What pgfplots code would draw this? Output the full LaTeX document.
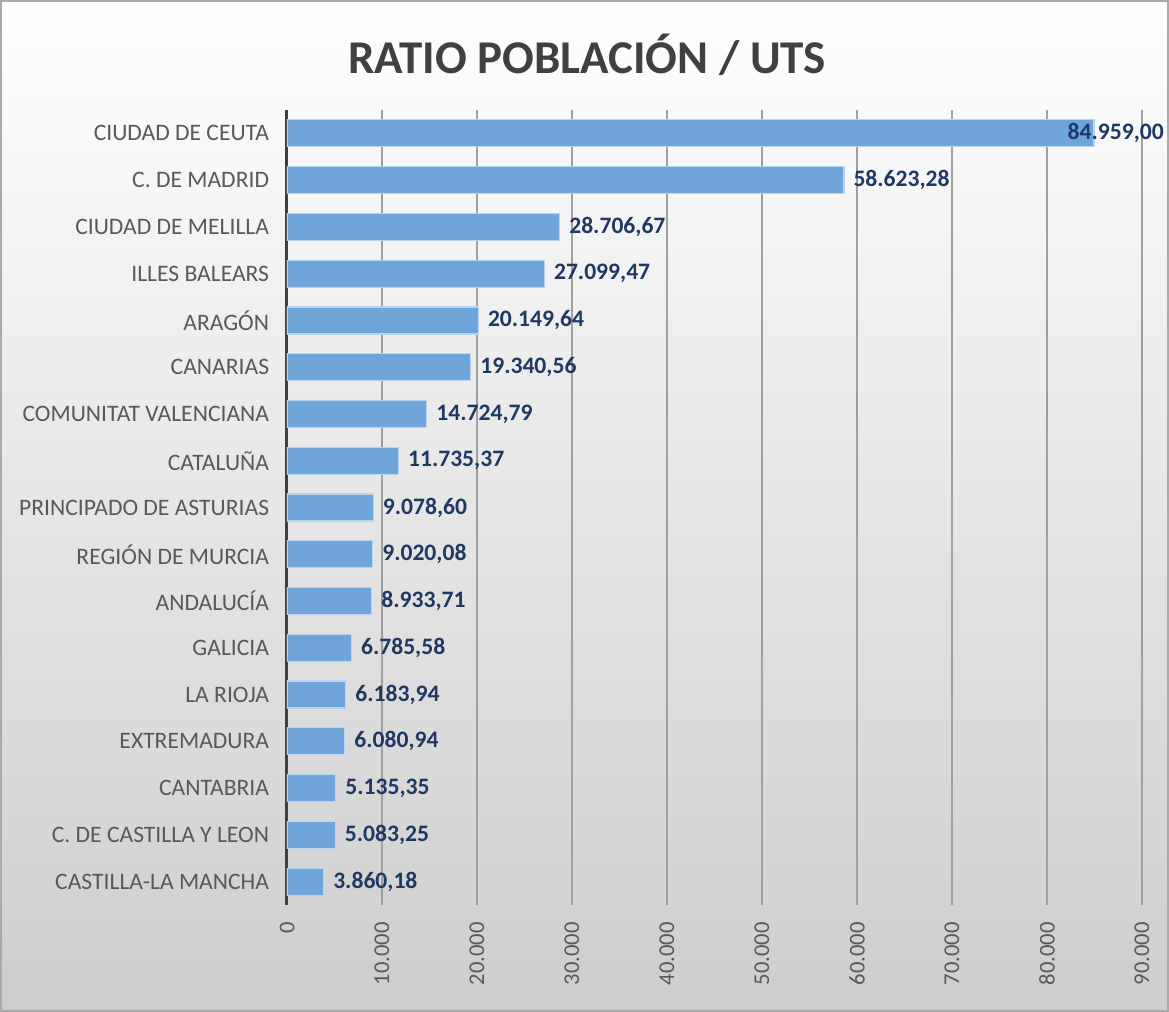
\documentclass[border=0pt]{standalone}
\usepackage{pgfplots}
\pgfplotsset{compat=1.18}
\usepackage{pgfplotstable}
\usepackage{fontspec}
\setmainfont{Carlito}
\definecolor{barblue}{RGB}{112,165,218}
\definecolor{baredge}{RGB}{185,212,240}
\definecolor{labnavy}{RGB}{31,56,100}
\definecolor{catgray}{RGB}{89,89,89}
\definecolor{titlegray}{RGB}{64,64,64}
\definecolor{gridgray}{RGB}{160,160,160}
\definecolor{axisdark}{RGB}{64,64,64}
\pgfplotstableread{
y x label
15 58623.28 58.623,28
14 28706.67 28.706,67
13 27099.47 27.099,47
12 20149.64 20.149,64
11 19340.56 19.340,56
10 14724.79 14.724,79
9 11735.37 11.735,37
8 9078.60 9.078,60
7 9020.08 9.020,08
6 8933.71 8.933,71
5 6785.58 6.785,58
4 6183.94 6.183,94
3 6080.94 6.080,94
2 5135.35 5.135,35
1 5083.25 5.083,25
0 3860.18 3.860,18
}\datamain
\pgfplotstableread{
y x label
16 84959.00 84.959,00
}\dataceuta
\begin{document}
\begin{tikzpicture}
\useasboundingbox (0,0) rectangle (584.5pt,506pt);
\shade[top color=white, bottom color={rgb,255:red,205;green,205;blue,205}] (0,0) rectangle (584.5pt,506pt);
\draw[draw={rgb,255:red,170;green,170;blue,170}, line width=1.2pt] (0.6pt,0.6pt) rectangle (583.9pt,505.4pt);
\node[font=\bfseries\fontsize{23.5}{28}\selectfont, text=titlegray] at (293.5pt,478.5pt) {RATIO POBLACIÓN / UTS};
\begin{axis}[
  at={(143.5pt,53.5pt)}, anchor=south west,
  width=427.5pt, height=397.5pt, scale only axis,
  xmin=0, xmax=90000, ymin=-0.5, ymax=16.5,
  xbar, bar width=13.5pt, bar shift=0pt,
  scaled x ticks=false,
  axis line style={draw=none},
  tick style={draw=none},
  xtick={10000,20000,30000,40000,50000,60000,70000,80000,90000},
  xticklabels={10.000,20.000,30.000,40.000,50.000,60.000,70.000,80.000,90.000},
  extra x ticks={0}, extra x tick labels={0},
  extra x tick style={major grid style={draw=axisdark, line width=1.5pt}},
  xmajorgrids,
  major grid style={draw=gridgray, line width=0.8pt},
  x tick label style={rotate=90, anchor=east, inner sep=0pt, font=\fontsize{11.3}{13}\selectfont, text=catgray},
  xticklabel shift=8.5pt,
  ytick={0,...,16},
  yticklabels={CASTILLA-LA MANCHA, C. DE CASTILLA Y LEON, CANTABRIA, EXTREMADURA, LA RIOJA, GALICIA, ANDALUCÍA, REGIÓN DE MURCIA, PRINCIPADO DE ASTURIAS, CATALUÑA, COMUNITAT VALENCIANA, CANARIAS, ARAGÓN, ILLES BALEARS, CIUDAD DE MELILLA, C. DE MADRID, CIUDAD DE CEUTA},
  y tick label style={anchor=east, inner sep=0pt, font=\fontsize{11.8}{13}\selectfont, text=catgray},
  yticklabel shift=4.5pt,
  point meta=explicit symbolic,
  nodes near coords,
  every node near coord/.style={font=\bfseries\fontsize{11.8}{13}\selectfont, text=labnavy, anchor=west, inner sep=0pt},
]
\addplot[fill=barblue, draw=baredge, line width=0.6pt, nodes near coords style={xshift=4.5pt}] table[x=x, y=y, meta=label] {\datamain};
\addplot[fill=barblue, draw=baredge, line width=0.6pt, nodes near coords style={xshift=-13.5pt}] table[x=x, y=y, meta=label] {\dataceuta};
\end{axis}
\end{tikzpicture}
\end{document}
